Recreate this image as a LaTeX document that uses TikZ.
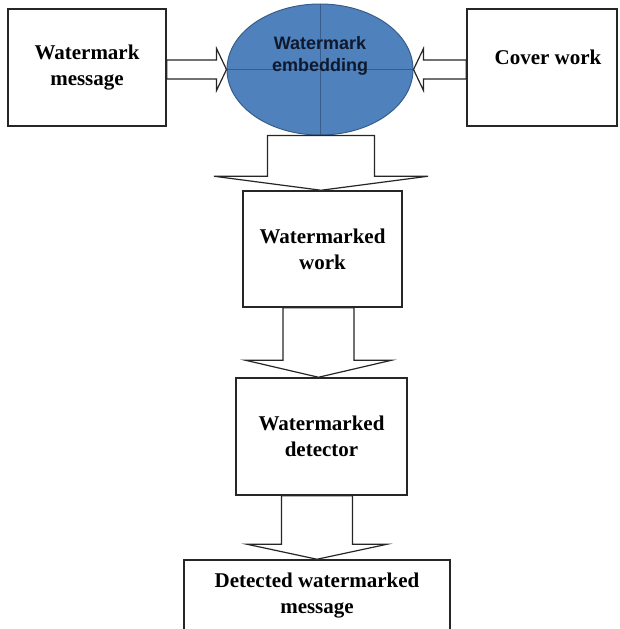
\documentclass[tikz,border=0pt]{standalone}
\usepackage{fontspec}
\setmainfont{Liberation Serif}
\newfontfamily\arialfont{Liberation Sans}
\usetikzlibrary{shapes.geometric,calc}
\definecolor{embfill}{RGB}{79,129,189}
\definecolor{embline}{RGB}{56,93,138}
\definecolor{embtext}{RGB}{15,25,45}
\begin{document}
\begin{tikzpicture}[x=1pt,y=-1pt,
  box/.style={draw=black!85, line width=1.5pt, fill=white, inner sep=0pt,
    font=\fontsize{21}{26}\selectfont\bfseries, align=center},
  lbl/.style={font=\fontsize{21}{26}\selectfont\bfseries, align=center, inner sep=0pt},
  barrow/.style={draw=black!85, line width=1.2pt, fill=white, line join=miter}]
\useasboundingbox (0,0) rectangle (620,629);
% boxes
\node[box, minimum width=158pt, minimum height=117pt] (msg) at (87,67.5) {Watermark\\message};
\node[box, minimum width=150pt, minimum height=117pt] (cover) at (542,67.5) {};
\node[lbl] (coverlbl) at (548,57) {Cover work};
\node[box, minimum width=159pt, minimum height=116pt] (work) at (322.5,249) {Watermarked\\work};
\node[box, minimum width=171pt, minimum height=117pt] (det) at (321.5,436.5) {Watermarked\\detector};
\node[box, minimum width=266pt, minimum height=72pt] (out) at (317,596) {Detected watermarked\\message};
% ellipse
\node[ellipse, draw=embline, line width=1pt, fill=embfill, minimum width=186pt,
  minimum height=131pt, inner sep=0pt] (emb) at (320,69.5) {};
\draw[embline, line width=0.8pt] (emb.north) -- (emb.south) (emb.west) -- (emb.east);
\node[font=\arialfont\fontsize{18}{22}\selectfont\bfseries, text=embtext, align=center, inner sep=0pt]
  (embl) at (320,56) {Watermark\\embedding};
% horizontal block arrows
\draw[barrow] let \p1=(emb.west), \p2=(msg.east) in
  (\x1,\y1) -- (\x1-10pt,\y1+21pt) -- (\x1-10pt,\y1+9.5pt) -- (\x2,\y1+9.5pt)
  -- (\x2,\y1-9.5pt) -- (\x1-10pt,\y1-9.5pt) -- (\x1-10pt,\y1-21pt) -- cycle;
\draw[barrow] let \p1=(emb.east), \p2=(cover.west) in
  (\x1,\y1) -- (\x1+10pt,\y1+21pt) -- (\x1+10pt,\y1+9.5pt) -- (\x2,\y1+9.5pt)
  -- (\x2,\y1-9.5pt) -- (\x1+10pt,\y1-9.5pt) -- (\x1+10pt,\y1-21pt) -- cycle;
% vertical block arrows
\draw[barrow] let \p1=($(work.north)+(-1.5,0)$), \p2=(emb.south) in
  (\x1,\y1) -- (\x1-107pt,\y1+14pt) -- (\x1-53.5pt,\y1+14pt) -- (\x1-53.5pt,\y2)
  -- (\x1+53.5pt,\y2) -- (\x1+53.5pt,\y1+14pt) -- (\x1+107pt,\y1+14pt) -- cycle;
\draw[barrow] let \p1=($(det.north)+(-3,0)$), \p2=(work.south) in
  (\x1,\y1) -- (\x1-73pt,\y1+17pt) -- (\x1-35.5pt,\y1+17pt) -- (\x1-35.5pt,\y2)
  -- (\x1+35.5pt,\y2) -- (\x1+35.5pt,\y1+17pt) -- (\x1+73pt,\y1+17pt) -- cycle;
\draw[barrow] let \p1=(out.north), \p2=(det.south) in
  (\x1,\y1) -- (\x1-70pt,\y1+15pt) -- (\x1-35.5pt,\y1+15pt) -- (\x1-35.5pt,\y2)
  -- (\x1+35.5pt,\y2) -- (\x1+35.5pt,\y1+15pt) -- (\x1+70pt,\y1+15pt) -- cycle;
\end{tikzpicture}
\end{document}
